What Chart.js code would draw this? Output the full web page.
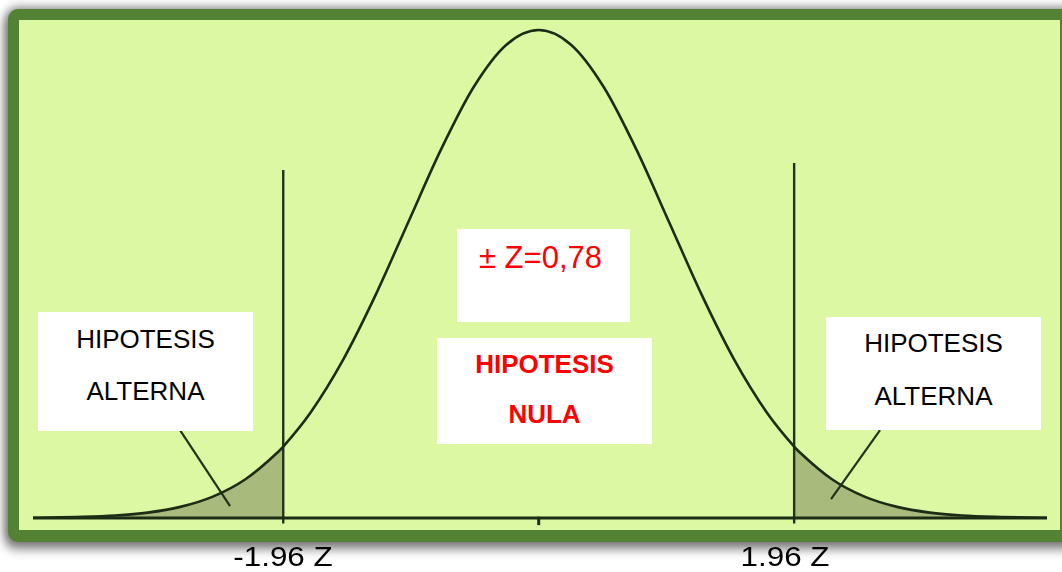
<!DOCTYPE html>
<html>
<head>
<meta charset="utf-8">
<script src="https://cdn.jsdelivr.net/npm/chart.js@4.4.1/dist/chart.umd.min.js"></script>
<style>
  html, body { margin: 0; padding: 0; background: #ffffff; }
  #wrap { position: relative; width: 1062px; height: 572px; overflow: hidden; background: #ffffff;
          font-family: "Liberation Sans", Arial, sans-serif; }
  #frame { position: absolute; left: 8px; top: 9px; width: 1041px; height: 510px;
           border: 11px solid #548235; border-bottom-width: 12px; border-radius: 10px 0 0 10px;
           background: #ddf8a3;
           box-shadow: 0 0 9px 3px rgba(0,0,0,0.38), -2px 7px 10px 2px rgba(0,0,0,0.30); }
  #chart { position: absolute; left: 0; top: 0; }
  .box { position: absolute; background: #ffffff; text-align: center; box-sizing: border-box; white-space: nowrap; }
  .blk { color: #000000; font-size: 26px; }
  .red { color: #ff0000; }
  .lbl { position: absolute; width: 200px; text-align: center; font-size: 28px; line-height: 28px;
         color: #000000; transform: scaleX(1.12); transform-origin: center; white-space: nowrap; }
</style>
</head>
<body>
<div id="wrap">
  <div id="frame"></div>
  <canvas id="chart" width="1062" height="572"></canvas>

  <div class="box red" style="left:457px; top:229px; width:173px; height:93px; font-size:31px; line-height:58px; padding-right:6px;">± Z=0,78</div>
  <div class="box red" style="left:437px; top:338px; width:215px; height:106px; font-size:26px; font-weight:bold; line-height:50px; padding-top:1px;">HIPOTESIS<br>NULA</div>
  <div class="box blk" style="left:38px; top:312px; width:215px; height:119px; line-height:52px; padding-top:1px;">HIPOTESIS<br>ALTERNA</div>
  <div class="box blk" style="left:826px; top:317px; width:215px; height:113px; line-height:53px;">HIPOTESIS<br>ALTERNA</div>

  <div class="lbl" id="lblL" style="left:183px; top:543px;"></div>
  <div class="lbl" id="lblR" style="left:685px; top:543px;"></div>
</div>

<script>
// ---- data ----
// z values (standard deviations) along the horizontal axis
const zValues = [-3.88, -3.5, -3.25, -3.0, -2.75, -2.5, -2.25, -2.0, -1.96, -1.75, -1.5, -1.25, -1.0, -0.75, -0.5, -0.25,
                 0, 0.25, 0.5, 0.75, 1.0, 1.25, 1.5, 1.75, 1.96, 2.0, 2.25, 2.5, 2.75, 3.0, 3.25, 3.5, 3.9];
// curve height at each z value
const density = [0.0002, 0.0009, 0.0020, 0.0044, 0.0091, 0.0175, 0.0317, 0.0540, 0.0584, 0.0863, 0.1295, 0.1826, 0.2420, 0.3011, 0.3521, 0.3867,
                 0.3989, 0.3867, 0.3521, 0.3011, 0.2420, 0.1826, 0.1295, 0.0863, 0.0584, 0.0540, 0.0317, 0.0175, 0.0091, 0.0044, 0.0020, 0.0009, 0.0002];
// critical values
const criticalZ = [-1.96, 1.96];
const criticalLabels = ["-1.96 Z", "1.96 Z"];
// tops of the two critical lines (curve-height units)
const criticalTops = [0.2845, 0.2902];
// leader lines from the "HIPOTESIS ALTERNA" boxes into the tails: [z, height] pairs
const leaderLeft = [[-2.752, 0.0719], [-2.368, 0.0098]];
const leaderRight = [[2.619, 0.0719], [2.243, 0.0155]];
// axis range
const zMin = -3.88, zMax = 3.90;
const hMin = -0.0098, hMax = 0.4071;

document.getElementById('lblL').textContent = criticalLabels[0];
document.getElementById('lblR').textContent = criticalLabels[1];

const curvePts = zValues.map((z, i) => ({ x: z, y: density[i] }));
const leftTail = curvePts.filter(p => p.x <= criticalZ[0]);
const rightTail = curvePts.filter(p => p.x >= criticalZ[1]);
const toPts = arr => arr.map(p => ({ x: p[0], y: p[1] }));

const lineColor = '#1d2c15';
const thinColor = '#22331a';

new Chart(document.getElementById('chart'), {
  type: 'line',
  data: {
    datasets: [
      { data: curvePts, borderColor: lineColor, borderWidth: 2.6, pointRadius: 0, fill: false, cubicInterpolationMode: 'monotone' },
      { data: [{ x: zMin, y: 0 }, { x: zMax, y: 0 }], borderColor: lineColor, borderWidth: 3, pointRadius: 0, fill: false },
      { data: [{ x: criticalZ[0], y: -0.0045 }, { x: criticalZ[0], y: criticalTops[0] }], borderColor: thinColor, borderWidth: 2.4, pointRadius: 0, fill: false },
      { data: [{ x: criticalZ[1], y: -0.0045 }, { x: criticalZ[1], y: criticalTops[1] }], borderColor: thinColor, borderWidth: 2.4, pointRadius: 0, fill: false },
      { data: [{ x: 0, y: -0.0058 }, { x: 0, y: 0.001 }], borderColor: lineColor, borderWidth: 3, pointRadius: 0, fill: false },
      { data: toPts(leaderLeft), borderColor: thinColor, borderWidth: 2.2, pointRadius: 0, fill: false },
      { data: toPts(leaderRight), borderColor: thinColor, borderWidth: 2.2, pointRadius: 0, fill: false },
      { data: leftTail, borderWidth: 0, borderColor: 'rgba(0,0,0,0)', backgroundColor: '#a9ba7d', pointRadius: 0, fill: 'origin', cubicInterpolationMode: 'monotone' },
      { data: rightTail, borderWidth: 0, borderColor: 'rgba(0,0,0,0)', backgroundColor: '#a9ba7d', pointRadius: 0, fill: 'origin', cubicInterpolationMode: 'monotone' }
    ]
  },
  options: {
    responsive: false,
    devicePixelRatio: 1,
    animation: false,
    layout: { padding: { left: 33, right: 15, top: 20, bottom: 42 } },
    scales: {
      x: { type: 'linear', min: zMin, max: zMax, display: false },
      y: { type: 'linear', min: hMin, max: hMax, display: false }
    },
    plugins: { legend: { display: false }, tooltip: { enabled: false } }
  }
});
</script>
</body>
</html>
